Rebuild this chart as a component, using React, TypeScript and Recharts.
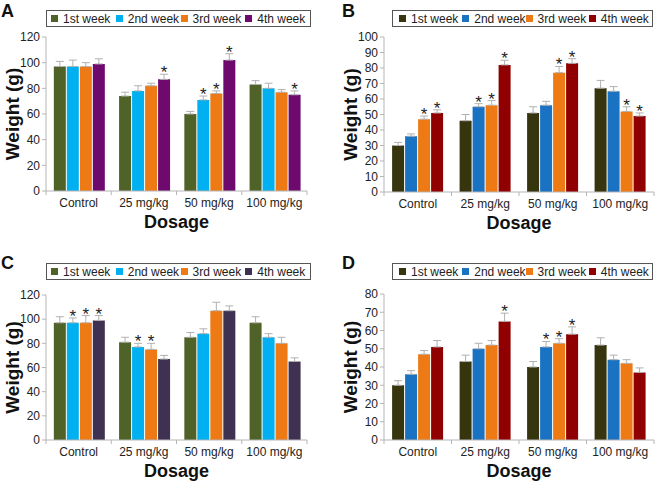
import { Bar, BarChart, ErrorBar, LabelList, XAxis, YAxis } from "recharts"

const dosages = ["Control", "25 mg/kg", "50 mg/kg", "100 mg/kg"]
const weeks = ["1st week", "2nd week", "3rd week", "4th week"]

// each inner array is one week, across the four dosages
const meansA = [[97, 74, 60, 83], [97, 78, 71, 80], [97, 82, 76, 77], [99, 87, 102, 75]]
const errorsA = [[4, 3, 2, 3], [5, 4, 3, 4], [3, 2, 2, 2], [4, 4, 5, 3]]
const starsA = [[0, 0, 0, 0], [0, 0, 1, 0], [0, 0, 1, 0], [0, 1, 1, 1]]

const meansB = [[30, 46, 51, 67], [36, 55, 56, 65], [47, 56, 77, 52], [51, 82, 83, 49]]
const errorsB = [[2, 4, 4, 5], [1.5, 2, 2.5, 3], [2, 3, 4, 3], [2, 3, 3, 2]]
const starsB = [[0, 0, 0, 0], [0, 1, 0, 0], [1, 1, 1, 1], [1, 1, 1, 1]]

const meansC = [[97, 81, 85, 97], [97, 77, 88, 85], [97, 75, 107, 80], [99, 67, 107, 65]]
const errorsC = [[5, 4, 4, 5], [4, 3, 4, 3], [6, 5, 7, 5], [4, 3, 4, 3]]
const starsC = [[0, 0, 0, 0], [1, 1, 0, 0], [1, 1, 0, 0], [1, 0, 0, 0]]

const meansD = [[30, 43, 40, 52], [36, 50, 51, 44], [47, 52, 53, 42], [51, 65, 58, 37]]
const errorsD = [[2.5, 3.5, 3, 4], [2, 3, 3, 2.5], [2, 2.5, 2.5, 2], [3.5, 4.5, 4, 2.5]]
const starsD = [[0, 0, 0, 0], [0, 0, 1, 0], [0, 0, 1, 0], [0, 1, 1, 0]]

const ticks120 = [0, 20, 40, 60, 80, 100, 120]
const ticks100 = [0, 10, 20, 30, 40, 50, 60, 70, 80, 90, 100]
const ticks80 = [0, 10, 20, 30, 40, 50, 60, 70, 80]

const colorsAC = ["#4f6228", "#00b0f0", "#ee7a16"]
const colorsBD = ["#36350e", "#1a73c2", "#ee7a16", "#900000"]

const FONT = "'Liberation Sans', Arial, sans-serif"
const W = 330
const H = 241

interface PanelProps {
  letter: string
  left: number
  top: number
  means: number[][]
  errors: number[][]
  stars: number[][]
  colors: string[]
  ticks: number[]
  plot: { l: number; r: number; t: number; b: number }
  legend: { x: number; y: number; w: number; pad: number; step: number }
  letterPos: { x: number; y: number }
  yLabelX: number
}

function Panel({ letter, left, top, means, errors, stars, colors, ticks, plot, legend, letterPos, yLabelX }: PanelProps) {
  const rows = dosages.map((d, ci) => {
    const row: Record<string, unknown> = { dosage: d }
    weeks.forEach((_, wi) => {
      row[`w${wi}`] = means[wi][ci]
      row[`e${wi}`] = [0, errors[wi][ci]]
    })
    return row
  })
  const band = (plot.r - plot.l) / dosages.length
  const yMax = ticks[ticks.length - 1]

  const tick = (props: any) => {
    const { x, y, payload, index } = props
    return (
      <g>
        <line x1={x - band / 2} x2={x - band / 2} y1={y} y2={y + 4} stroke="#b5b5b5" />
        {index === dosages.length - 1 && <line x1={x + band / 2} x2={x + band / 2} y1={y} y2={y + 4} stroke="#b5b5b5" />}
        <text x={x} y={y + 16} textAnchor="middle" fontSize={12} fill="#222">
          {payload.value}
        </text>
      </g>
    )
  }

  const starLabel = (wi: number) => (props: any) => {
    const { x, y, width, height, value, index } = props
    if (!stars[wi][index]) return null
    const errPx = (errors[wi][index] * height) / value
    return (
      <text x={x + width / 2} y={y - errPx + 4} textAnchor="middle" fontSize={17} fill="#222">
        *
      </text>
    )
  }

  return (
    <div style={{ position: "absolute", left, top, width: W, height: H, fontFamily: FONT }}>
      <BarChart
        width={W}
        height={H}
        data={rows}
        margin={{ top: plot.t, right: W - plot.r, left: 0, bottom: H - plot.b - 20 }}
        barCategoryGap="12%"
        barGap={1}
      >
        <XAxis
          dataKey="dosage"
          height={20}
          tickLine={false}
          tickSize={0}
          tickMargin={0}
          axisLine={{ stroke: "#b5b5b5" }}
          tick={tick}
          interval={0}
        />
        <YAxis
          width={plot.l}
          domain={[0, yMax]}
          ticks={ticks}
          interval={0}
          tickSize={4}
          tickMargin={2}
          axisLine={{ stroke: "#b5b5b5" }}
          tickLine={{ stroke: "#b5b5b5" }}
          tick={{ fontSize: 12, fill: "#222" }}
        />
        {weeks.map((wk, wi) => (
          <Bar key={wk} dataKey={`w${wi}`} name={wk} fill={colors[wi]} isAnimationActive={false}>
            <ErrorBar dataKey={`e${wi}`} width={4} stroke="#b0b0b0" strokeWidth={1} direction="y" />
            <LabelList dataKey={`w${wi}`} content={starLabel(wi)} />
          </Bar>
        ))}
      </BarChart>
      <svg width={W} height={H} style={{ position: "absolute", left: 0, top: 0, pointerEvents: "none" }}>
        <text x={letterPos.x} y={letterPos.y} fontSize={18} fontWeight="bold" fill="#111">
          {letter}
        </text>
        <text
          x={yLabelX}
          y={(plot.t + plot.b) / 2}
          transform={`rotate(-90 ${yLabelX} ${(plot.t + plot.b) / 2})`}
          textAnchor="middle"
          dominantBaseline="central"
          fontSize={19}
          fontWeight="bold"
          fill="#111"
        >
          Weight (g)
        </text>
        <text x={(plot.l + plot.r) / 2} y={plot.b + 37} textAnchor="middle" fontSize={18} fontWeight="bold" fill="#111">
          Dosage
        </text>
      </svg>
      <div
        style={{
          position: "absolute",
          left: legend.x,
          top: legend.y,
          width: legend.w,
          height: 17,
          border: "1px solid #555",
          boxSizing: "border-box",
          display: "flex",
          alignItems: "center",
          paddingLeft: legend.pad,
          fontSize: 12,
          color: "#222",
          whiteSpace: "nowrap",
        }}
      >
        {weeks.map((wk, wi) => (
          <div key={wk} style={{ display: "flex", alignItems: "center", width: legend.step }}>
            <span style={{ display: "inline-block", width: 7, height: 7, background: colors[wi], marginRight: 5 }} />
            {wk}
          </div>
        ))}
      </div>
    </div>
  )
}

export default function App() {
  return (
    <div style={{ position: "fixed", left: 0, top: 0, width: 657, height: 481, background: "#fff" }}>
      <Panel
        letter="A"
        left={0}
        top={0}
        means={meansA}
        errors={errorsA}
        stars={starsA}
        colors={[...colorsAC, "#6e0a6e"]}
        ticks={ticks120}
        plot={{ l: 46, r: 307, t: 37, b: 191 }}
        legend={{ x: 46, y: 10, w: 265, pad: 4, step: 66 }}
        letterPos={{ x: 1, y: 17 }}
        yLabelX={12}
      />
      <Panel
        letter="B"
        left={327}
        top={0}
        means={meansB}
        errors={errorsB}
        stars={starsB}
        colors={colorsBD}
        ticks={ticks100}
        plot={{ l: 57, r: 327, t: 37, b: 192 }}
        legend={{ x: 65, y: 10, w: 261, pad: 6, step: 65 }}
        letterPos={{ x: 15, y: 17 }}
        yLabelX={23}
      />
      <Panel
        letter="C"
        left={0}
        top={240}
        means={meansC}
        errors={errorsC}
        stars={starsC}
        colors={[...colorsAC, "#3f3151"]}
        ticks={ticks120}
        plot={{ l: 46, r: 307, t: 55, b: 200 }}
        legend={{ x: 46, y: 23, w: 265, pad: 4, step: 66 }}
        letterPos={{ x: 1, y: 29 }}
        yLabelX={12}
      />
      <Panel
        letter="D"
        left={327}
        top={240}
        means={meansD}
        errors={errorsD}
        stars={starsD}
        colors={colorsBD}
        ticks={ticks80}
        plot={{ l: 57, r: 327, t: 54, b: 200 }}
        legend={{ x: 65, y: 23, w: 261, pad: 6, step: 65 }}
        letterPos={{ x: 15, y: 29 }}
        yLabelX={23}
      />
    </div>
  )
}
